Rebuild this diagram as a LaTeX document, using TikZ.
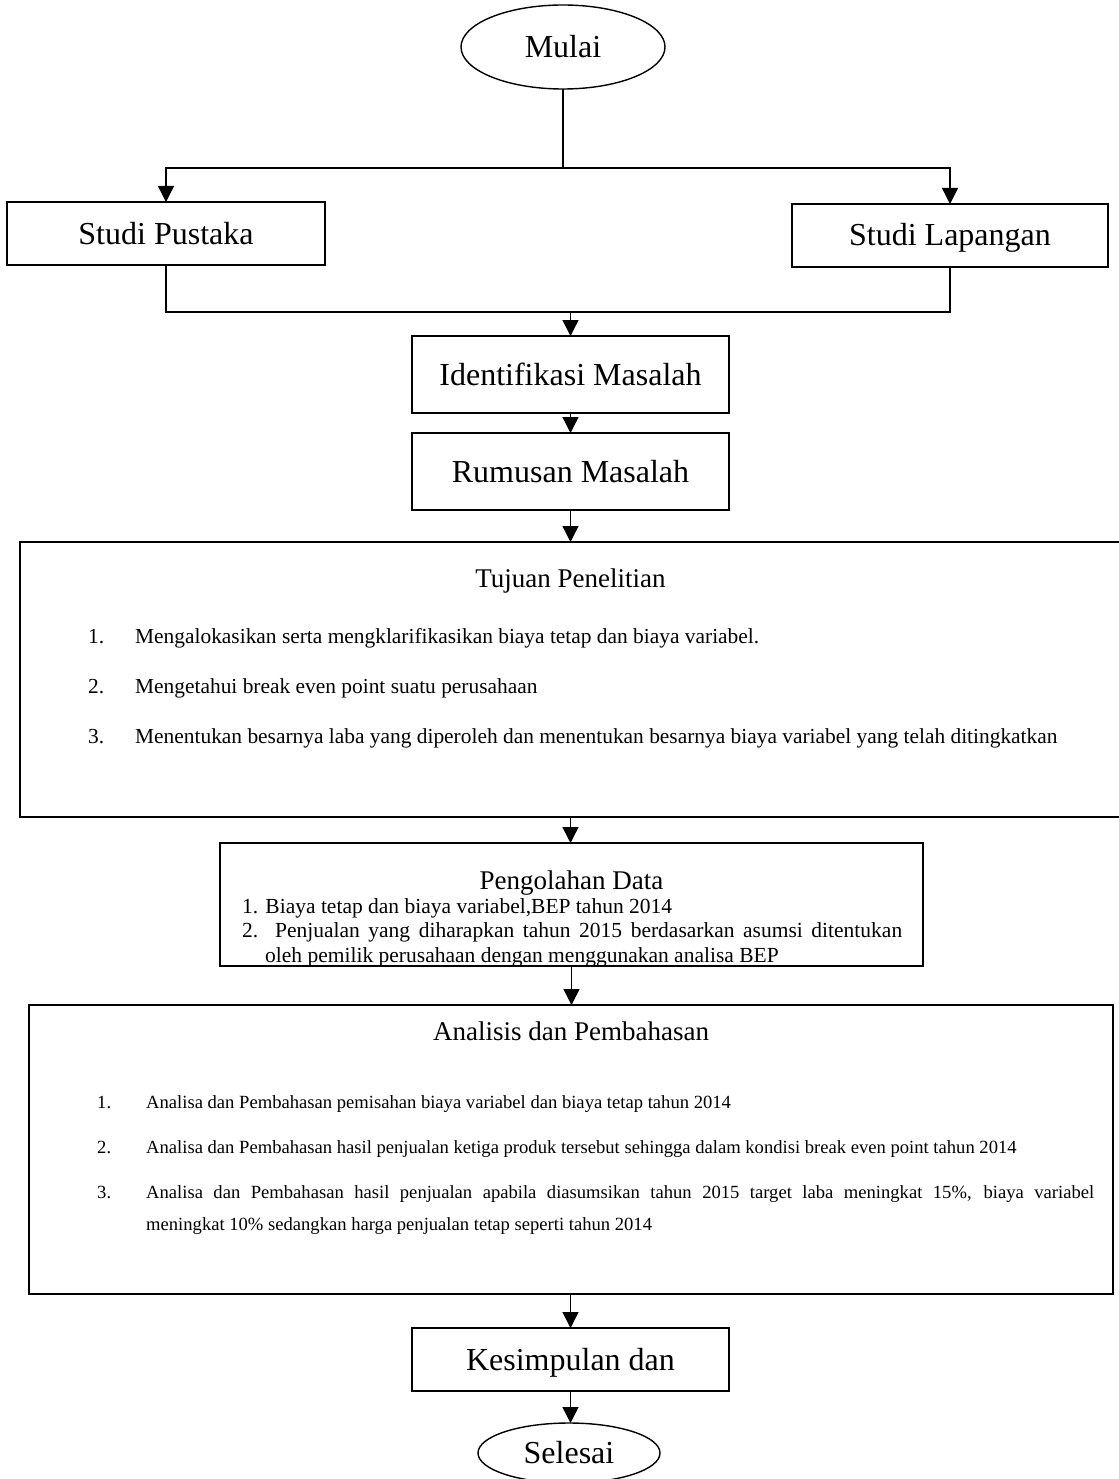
\documentclass[tikz,border=0pt]{standalone}
\usepackage{fontspec}
\setmainfont{Liberation Serif}
\usetikzlibrary{arrows.meta,shapes.geometric}
\tikzset{
  boxst/.style={draw, line width=1.8pt, inner sep=0pt, outer sep=0pt},
  ellst/.style={draw, ellipse, line width=1.4pt, inner sep=0pt, outer sep=0pt},
  bigfont/.style={font=\fontsize{32}{38}\selectfont, text height=21pt, text depth=0pt},
  titlefont/.style={font=\fontsize{27}{32}\selectfont, inner sep=0pt},
  itemfont/.style={font=\fontsize{21.4}{25}\selectfont, inner sep=0pt},
  pgfont/.style={font=\fontsize{21.5}{24.5}\selectfont, inner sep=0pt},
  anfont/.style={font=\fontsize{18.6}{22}\selectfont, inner sep=0pt},
  line/.style={line width=1.4pt},
  arr/.style={line width=1.4pt, -{Triangle[length=16pt,width=16pt]}}
}
\begin{document}
\begin{tikzpicture}[x=1pt,y=-1pt]
\useasboundingbox (0,0) rectangle (1118,1479);
% start / end
\node[ellst, bigfont, minimum width=204pt, minimum height=84pt] (mulai) at (563,47) {Mulai};
\node[ellst, bigfont, minimum width=182pt, minimum height=60pt] (sel) at (569,1453) {Selesai};
% boxes
\node[boxst, bigfont, minimum width=318pt, minimum height=63pt] (sp) at (166,233.5) {Studi Pustaka};
\node[boxst, bigfont, minimum width=316pt, minimum height=63pt] (sl) at (950,235.5) {Studi Lapangan};
\node[boxst, bigfont, minimum width=317pt, minimum height=77pt] (id) at (570.5,374.5) {Identifikasi Masalah};
\node[boxst, bigfont, minimum width=317pt, minimum height=77pt] (rm) at (570.5,471.5) {Rumusan Masalah};
\node[boxst, minimum width=1101pt, minimum height=275pt] (tj) at (570.5,679.5) {};
\node[boxst, minimum width=703pt, minimum height=123pt] (pg) at (571.5,904.5) {};
\node[boxst, minimum width=1084pt, minimum height=289pt] (an) at (571,1149.5) {};
\node[boxst, bigfont, minimum width=317pt, minimum height=63pt] (ks) at (570.5,1359.5) {Kesimpulan dan};
% Tujuan text
\node[titlefont, anchor=base] (tjt) at (570.5,587) {Tujuan Penelitian};
\node[itemfont, anchor=base west] (tjn1) at (88,643) {1.};
\node[itemfont, anchor=base west] (tji1) at (135,643) {Mengalokasikan serta mengklarifikasikan biaya tetap dan biaya variabel.};
\node[itemfont, anchor=base west] (tjn2) at (88,693) {2.};
\node[itemfont, anchor=base west] (tji2) at (135,693) {Mengetahui break even point suatu perusahaan};
\node[itemfont, anchor=base west] (tjn3) at (88,743) {3.};
\node[itemfont, anchor=base west] (tji3) at (135,743) {Menentukan besarnya laba yang diperoleh dan menentukan besarnya biaya variabel yang telah ditingkatkan};
% Pengolahan text
\node[titlefont, anchor=base] (pgt) at (571.5,889) {Pengolahan Data};
\node[pgfont, anchor=base west] (pg1) at (242,913) {1. Biaya tetap dan biaya variabel,BEP tahun 2014};
\node[pgfont, anchor=base west] (pg2) at (242,937.5) {\makebox[660pt][s]{2. Penjualan yang diharapkan tahun 2015 berdasarkan asumsi ditentukan}};
\node[pgfont, anchor=base west] (pg3) at (265,962) {oleh pemilik perusahaan dengan menggunakan analisa BEP};
% Analisis text
\node[titlefont, anchor=base] (ant) at (571,1040) {Analisis dan Pembahasan};
\node[anfont, anchor=base west] (ann1) at (97,1108) {1.};
\node[anfont, anchor=base west] (ani1) at (146,1108) {Analisa dan Pembahasan pemisahan biaya variabel dan biaya tetap tahun 2014};
\node[anfont, anchor=base west] (ann2) at (97,1153) {2.};
\node[anfont, anchor=base west] (ani2) at (146,1153) {Analisa dan Pembahasan hasil penjualan ketiga produk tersebut sehingga dalam kondisi break even point tahun 2014};
\node[anfont, anchor=base west] (ann3) at (97,1198) {3.};
\node[anfont, anchor=base west] (ani3) at (146,1198) {\makebox[948pt][s]{Analisa dan Pembahasan hasil penjualan apabila diasumsikan tahun 2015 target laba meningkat 15\%, biaya variabel}};
\node[anfont, anchor=base west] (ani3b) at (146,1230) {meningkat 10\% sedangkan harga penjualan tetap seperti tahun 2014};
% connectors
\draw[line] (mulai.south) -- ++(0,79) coordinate (j1);
\draw[arr] (j1) -| (sp.north);
\draw[arr] (j1) -| (sl.north);
\draw[line] (sp.south) -- (sp.south |- 0,312) coordinate (j2) -| (sl.south);
\draw[arr] (j2 -| id.north) -- (id.north);
\draw[arr] (id.south) -- (id.south |- rm.north);
\draw[arr] (rm.south) -- (rm.south |- tj.north);
\draw[arr] (rm.south |- tj.south) -- (rm.south |- pg.north);
\draw[arr] (pg.south) -- (pg.south |- an.north);
\draw[arr] (ks.south |- an.south) -- (ks.north);
\draw[arr] (ks.south) -- (ks.south |- sel.north);
\end{tikzpicture}
\end{document}
